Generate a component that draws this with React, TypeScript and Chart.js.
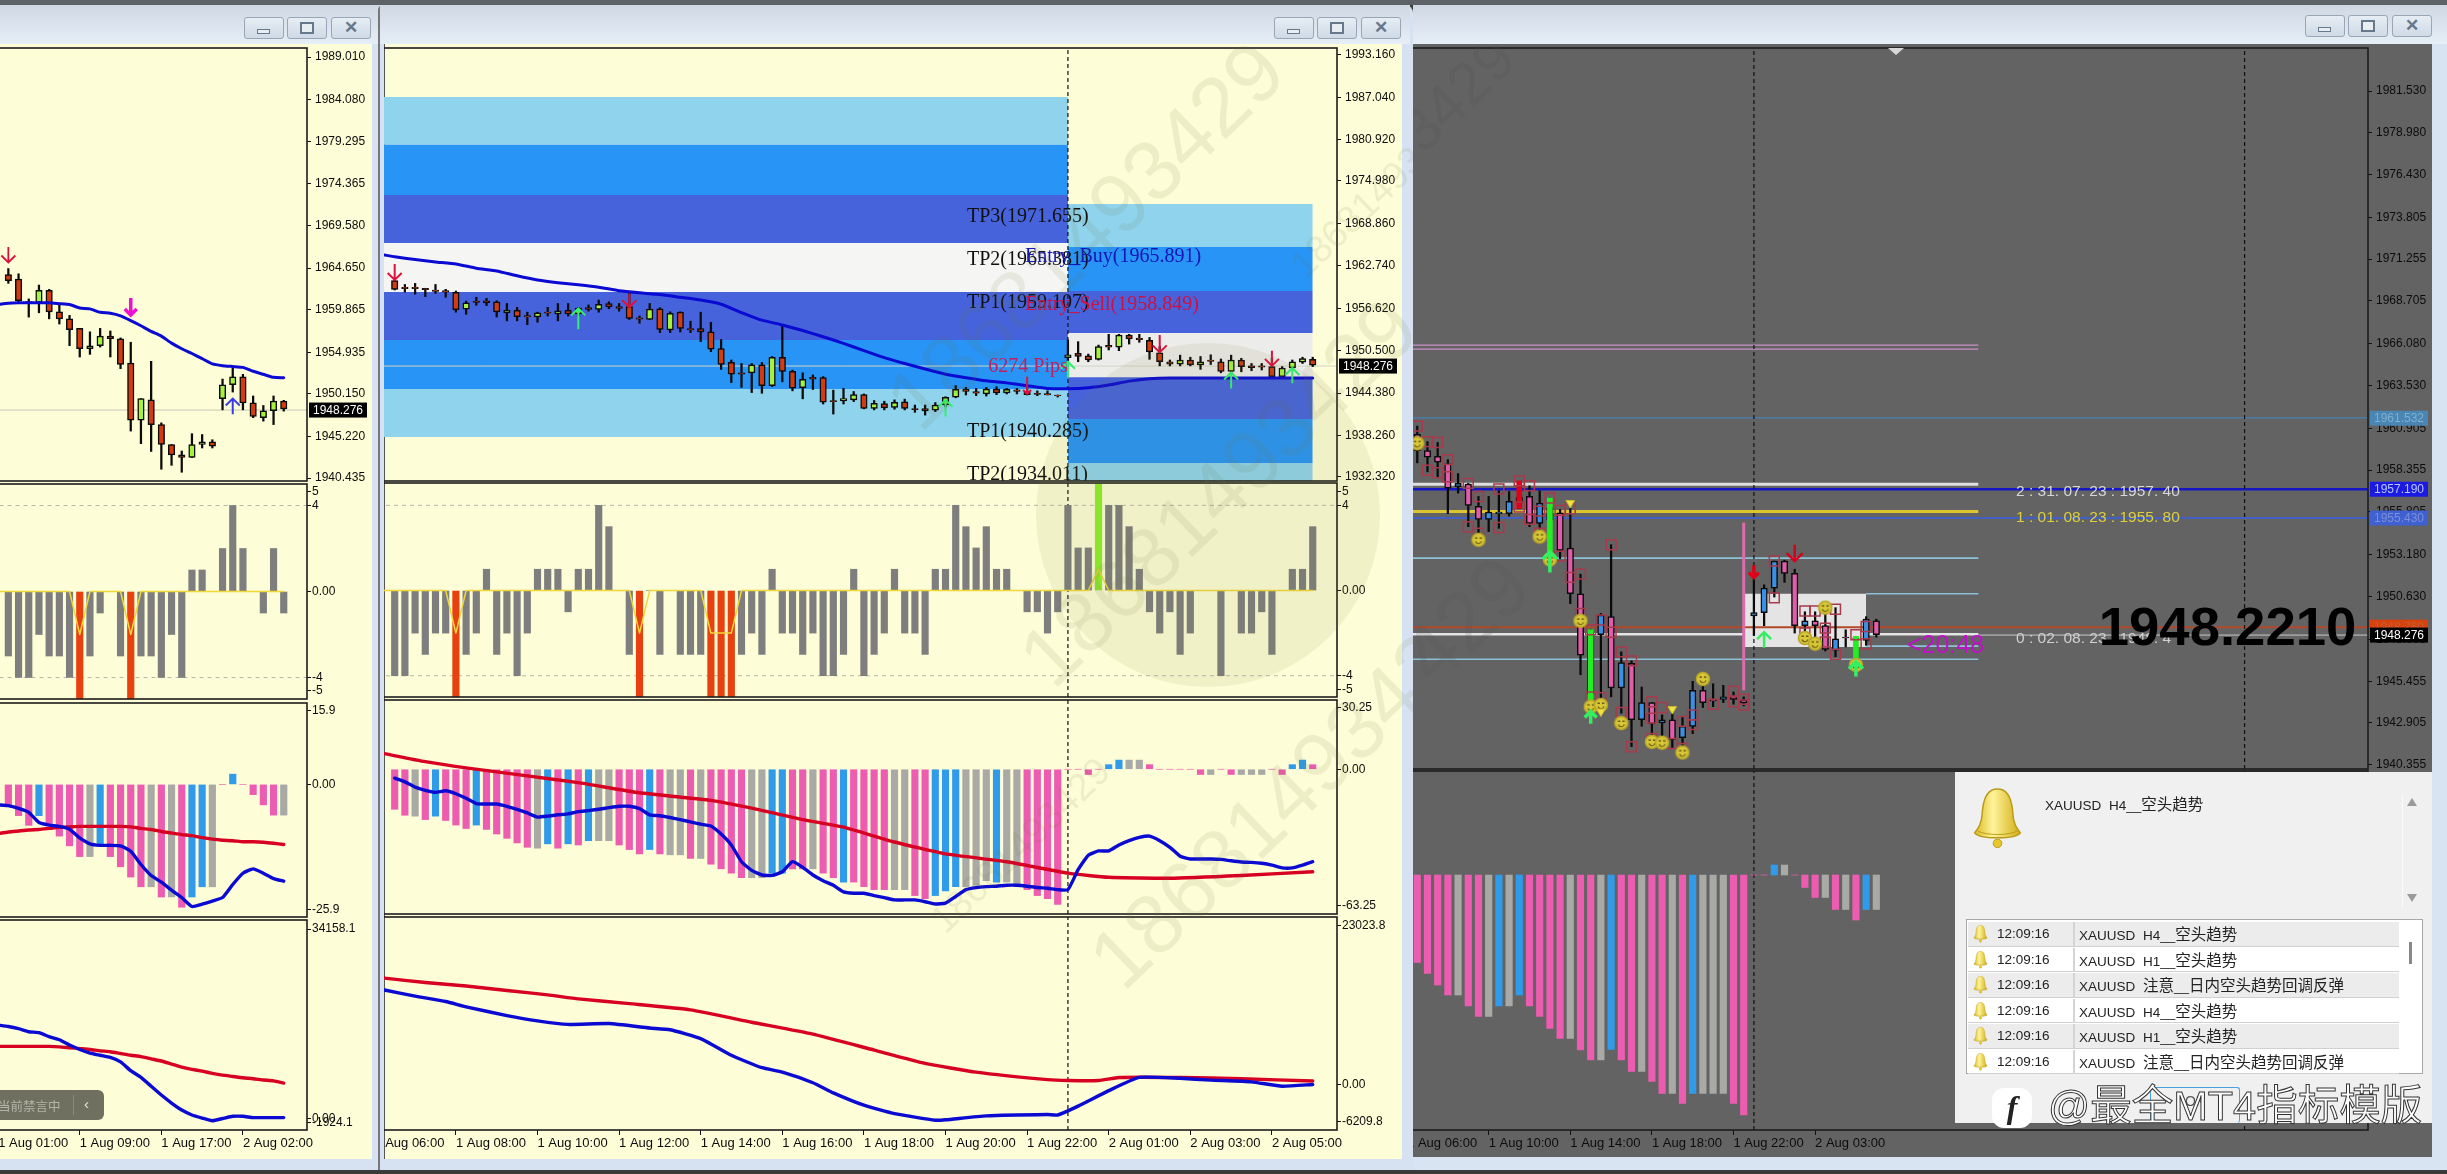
import React, { useEffect, useRef } from "react";
import { Chart, registerables } from "chart.js";

Chart.register(...registerables);

// ---------- Left window data ----------
const leftCandles = [
  [1963.9,1964.6,1962.9,1963.2],[1963.4,1964.0,1960.7,1960.9],[1960.8,1961.1,1959.0,1960.6],[1960.7,1962.7,1959.5,1962.1],
  [1962.1,1962.2,1958.8,1959.6],[1959.6,1960.4,1958.2,1958.8],[1958.8,1959.2,1955.7,1957.55],[1957.7,1957.7,1954.4,1955.35],
  [1955.35,1957.3,1954.7,1955.7],[1955.7,1957.7,1955.55,1956.8],[1956.8,1957.4,1954.4,1956.5],[1956.5,1956.6,1953.05,1953.55],
  [1953.7,1956.1,1945.85,1947.1],[1947.1,1949.6,1944.4,1949.6],[1949.45,1953.9,1943.5,1946.6],[1946.6,1946.8,1941.45,1944.3],
  [1944.3,1944.3,1941.9,1943.1],[1943.1,1943.55,1941.1,1942.8],[1942.8,1945.55,1942.8,1944.3],[1944.3,1945.45,1943.9,1944.6],
  [1944.6,1944.85,1943.9,1944.1],[1949.6,1951.85,1948.3,1951.2],[1951.2,1953.25,1950.35,1952.1],[1952.1,1952.4,1948.3,1949.1],
  [1949.1,1949.9,1947.4,1947.55],[1947.4,1948.8,1947.0,1948.2],[1948.2,1949.9,1946.6,1949.3],[1949.3,1949.4,1948.15,1948.4],
];
const leftMa = [1960.45,1960.6,1960.65,1960.65,1960.65,1960.65,1960.55,1960.45,1960.05,1959.95,1959.55,1959.45,1959.15,1958.6,1958.0,1957.35,1956.8,1956.0,1955.35,1954.8,1954.2,1953.6,1953.4,1953.3,1953.2,1952.75,1952.4,1952.05,1952.0];
const leftYTicks: [number, string][] = [[1989.01,"1989.010"],[1984.08,"1984.080"],[1979.295,"1979.295"],[1974.365,"1974.365"],[1969.58,"1969.580"],[1964.65,"1964.650"],[1959.865,"1959.865"],[1954.935,"1954.935"],[1950.15,"1950.150"],[1945.22,"1945.220"],[1940.435,"1940.435"]];
const leftXTicks: [number, string][] = [[-1,"1 Aug 01:00"],[7,"1 Aug 09:00"],[15,"1 Aug 17:00"],[23,"2 Aug 02:00"]];
const leftVol = [-3,-4,-4,-2,-3,-3,-4,-5,-3,-1,0,-3,-5,-3,-3,-4,-2,-4,1,1,0,2,4,2,0,-1,2,-1];
const leftVolZero: [number, number][] = [[-4,0],[6,0],[7,-2],[8,0],[11,0],[12,-2],[13,0],[27,0]];
const leftMacd = [-4,-6.1,-8,-6.1,-8.1,-10.1,-12,-14.1,-14.1,-12,-14.1,-16.1,-18.1,-20,-20,-22,-22,-24,-22,-20,-20,0,2,0,-2,-4,-6,-6];
const leftMacdKind = "pppbppppgbpppp" + "gpgpbbg" + "pbppppg";
const leftMacdRed = [-9.6,-9.3,-9.1,-8.9,-8.8,-8.6,-8.4,-8.3,-8.2,-8.2,-8.2,-8.2,-8.2,-8.3,-8.6,-8.8,-9.2,-9.5,-9.8,-10,-10.4,-10.7,-10.9,-11,-11.2,-11.2,-11.3,-11.5,-11.75];
const leftMacdBlue = [-4,-4.15,-4.7,-5.45,-7.45,-7.95,-8.2,-8.75,-10.45,-11.6,-11.9,-11.9,-12,-13.05,-15.65,-17.8,-19.1,-20.65,-22.1,-23.85,-23.4,-22.8,-22.1,-19.55,-17.35,-16.5,-17.35,-18.4,-18.9];
const leftObvBlue = [16090,15860,15480,14950,14800,14110,13580,12670,11910,11300,10920,10540,9780,8260,7120,5600,4080,2710,1500,660,130,-330,50,430,430,205,205,205,205];
const leftObvRed = [12440,12440,12440,12440,12440,12440,12365,12210,12060,11910,11680,11530,11225,10920,10690,10310,9930,9400,8870,8490,8185,7805,7500,7275,7045,6890,6665,6515,6130];

// ---------- Middle window data ----------
const midCandles = [
  [1960.6,1960.7,1959.25,1959.35],[1959.65,1960.05,1958.95,1959.45],[1959.65,1960.2,1958.65,1959.45],[1959.5,1959.5,1958.3,1959.3],
  [1959.25,1960.05,1958.75,1959.05],[1959.15,1959.35,1958.2,1958.95],[1958.9,1959.1,1956.05,1956.4],[1956.5,1957.65,1955.75,1957.4],
  [1957.65,1958.2,1957.05,1957.45],[1957.7,1958.05,1957.0,1957.4],[1957.55,1957.7,1955.35,1956.1],[1955.95,1957.3,1954.8,1956.35],
  [1956.3,1956.75,1954.8,1955.4],[1955.55,1956.05,1954.25,1955.35],[1955.35,1956.05,1954.6,1955.95],[1956.05,1956.75,1955.5,1955.9],
  [1955.8,1957.3,1954.8,1956.25],[1956.3,1957.3,1955.5,1955.8],[1955.8,1956.75,1955.5,1956.65],[1956.7,1957.1,1956.2,1956.45],
  [1956.45,1957.8,1956.05,1957.2],[1957.3,1957.55,1956.55,1956.8],[1956.85,1957.3,1956.2,1956.6],[1956.85,1959.0,1955.0,1955.15],
  [1955.25,1955.5,1954.45,1955.05],[1955.0,1957.3,1955.0,1956.5],[1956.55,1956.7,1953.1,1953.55],[1953.5,1956.1,1953.1,1955.9],
  [1956.05,1956.1,1953.2,1953.7],[1953.7,1954.75,1953.1,1953.5],[1953.7,1956.05,1951.8,1953.2],[1953.2,1954.6,1950.35,1950.7],
  [1950.8,1952.1,1947.8,1948.5],[1948.8,1949.15,1945.9,1947.1],[1947.3,1948.65,1945.2,1947.1],[1947.3,1948.65,1944.45,1948.45],
  [1948.45,1948.8,1944.35,1945.45],[1945.45,1949.65,1945.3,1949.55],[1949.55,1954.05,1946.0,1947.5],[1947.5,1947.7,1944.7,1945.1],
  [1945.15,1947.3,1943.55,1946.35],[1946.65,1947.0,1944.9,1946.4],[1946.6,1946.75,1942.8,1943.05],[1943.3,1944.8,1941.35,1943.15],
  [1943.25,1945.05,1942.8,1943.6],[1943.4,1944.6,1943.15,1944.15],[1944.15,1944.25,1942.1,1942.15],[1942.15,1943.3,1941.95,1942.9],
  [1942.85,1943.2,1941.95,1942.25],[1942.3,1943.4,1942.05,1943.05],[1943.1,1943.5,1941.95,1942.15],[1942.15,1942.65,1941.6,1942.0],
  [1942.15,1942.65,1941.2,1941.8],[1941.9,1943.0,1941.7,1942.65],[1942.65,1943.85,1942.4,1943.75],[1943.8,1945.45,1943.7,1944.9],
  [1944.95,1945.2,1944.1,1944.6],[1944.6,1945.05,1944.0,1944.35],[1944.25,1945.2,1943.95,1944.95],[1944.95,1945.3,1944.15,1944.4],
  [1944.4,1945.05,1944.25,1944.9],[1944.85,1945.05,1944.25,1944.6],[1944.6,1945.2,1944.1,1944.15],[1944.35,1944.7,1944.0,1944.2],
  [1944.3,1944.7,1944.1,1944.1],[1944.1,1944.1,1943.8,1944.0],[1949.5,1952.05,1947.95,1949.9],[1950.1,1951.8,1948.9,1949.65],
  [1949.75,1950.0,1948.9,1949.15],[1949.25,1951.3,1949.15,1951.1],[1951.25,1952.85,1950.6,1951.0],[1951.0,1952.85,1950.5,1952.75],
  [1952.75,1952.85,1951.45,1952.2],[1952.3,1952.85,1951.7,1952.1],[1952.0,1952.4,1949.25,1950.3],[1950.2,1951.1,1948.3,1948.9],
  [1948.9,1949.15,1948.3,1948.55],[1948.55,1949.85,1948.3,1949.15],[1949.15,1949.55,1948.3,1948.45],[1948.45,1949.65,1947.8,1948.9],
  [1949.15,1949.9,1948.5,1948.95],[1948.9,1949.3,1947.3,1947.5],[1947.5,1949.85,1947.2,1949.15],[1949.15,1949.4,1947.45,1948.2],
  [1948.3,1948.65,1947.6,1948.05],[1948.3,1948.65,1947.7,1948.1],[1948.2,1949.4,1946.75,1946.75],[1946.75,1948.2,1946.65,1948.0],
  [1948.0,1949.15,1947.8,1948.9],[1948.85,1949.55,1948.65,1949.35],[1949.25,1949.55,1948.2,1948.4],
];
const midMa: [number, number][] = [[-1,1964.3],[0,1964.05],[2,1963.65],[4,1963.3],[6,1963],[8,1962.4],[10,1962],[12,1961.3],[14,1960.7],[16,1960.3],[18,1960],[20,1959.65],[22,1959.15],[24,1958.85],[26,1958.6],[28,1958.2],[30,1957.8],[32,1957.2],[34,1956],[36,1954.9],[38,1954.2],[40,1953.4],[42,1952.5],[44,1951.55],[46,1950.5],[48,1949.5],[50,1948.65],[52,1947.85],[54,1947.1],[56,1946.6],[58,1946.15],[60,1945.85],[62,1945.45],[64,1945.05],[66,1945],[68,1945.15],[70,1945.55],[72,1946.1],[74,1946.45],[76,1946.55],[90,1946.55]];
const midYTicks: [number, string][] = [[1993.16,"1993.160"],[1987.04,"1987.040"],[1980.92,"1980.920"],[1974.98,"1974.980"],[1968.86,"1968.860"],[1962.74,"1962.740"],[1956.62,"1956.620"],[1950.5,"1950.500"],[1944.38,"1944.380"],[1938.26,"1938.260"],[1932.32,"1932.320"]];
const midXTicks: [number, string][] = [[-2,"1 Aug 06:00"],[6,"1 Aug 08:00"],[14,"1 Aug 10:00"],[22,"1 Aug 12:00"],[30,"1 Aug 14:00"],[38,"1 Aug 16:00"],[46,"1 Aug 18:00"],[54,"1 Aug 20:00"],[62,"1 Aug 22:00"],[70,"2 Aug 01:00"],[78,"2 Aug 03:00"],[86,"2 Aug 05:00"]];
const midBandsLeft = [1987.1,1980.2,1972.95,1966.05,1958.95,1952.05,1944.95,1938.05];
const midBandsRight = [1971.65,1965.45,1959.1,1953.05,1946.65,1940.65,1934.3,1931];
const midVol = [-4,-4,-2,-3,-2,-2,-5,-3,-2,1,-3,-2,-4,-2,1,1,1,-1,1,1,4,3,0,-3,-5,0,-3,0,-3,-3,-3,-5,-5,-5,-3,-2,-3,1,-2,-2,-3,-2,-4,-4,-3,1,-4,-3,-2,1,-2,-2,-3,1,1,4,3,2,3,1,1,0,-1,-1,-2,-1,4,2,2,5,4,4,3,1,-1,-2,-1,-3,-2,0,0,-4,0,-2,-2,-1,-3,0,1,1,3];
const midVolZero: [number, number][] = [[-4,0],[5,0],[6,-2],[7,0],[23,0],[24,-2],[25,0],[30,0],[31,-2],[33,-2],[34,0],[68,0],[69,1],[70,0],[90,0]];
const midMacd = [-17.5,-20.1,-20.5,-22,-20.5,-22.4,-24.4,-25.9,-24.4,-26.3,-28.3,-30.2,-32.2,-34.1,-34.5,-32.6,-34.5,-32.6,-33.1,-31.2,-31.2,-31.2,-33.1,-35.1,-37,-35.1,-37,-37.4,-37.4,-39,-39,-41.5,-43.5,-45.4,-47.4,-47.4,-47.4,-45.4,-45.4,-43.5,-43.5,-43.5,-45.4,-47.4,-49.3,-49.3,-51.3,-52.6,-52.6,-52.6,-52.6,-55.2,-56.5,-55.2,-53.2,-51.3,-51.3,-50.7,-48.7,-49.3,-49.3,-50.7,-52.6,-55.2,-56.5,-59.1,0,0,-2.3,0,2,4,4,4,2,0,0,0,0,-2.3,-2.3,0,-2.3,-2.3,-2.3,-2.3,0,-2.3,2,4,2];
const midMacdKind = "ppgpbpppbppppp" + "gbpbpbgg" + "pppbpggpgpppp" + "ggbbppgppbpppp" + "ggpp" + "bbbgggbgg" + "pppp" + "pppp" + "bbgg" + "p" + "pppp" + "pgp" + "pggg" + "pp" + "bbp";
const midMacdBlue = [-3.9,-5.5,-7.8,-9.2,-10.1,-9.4,-10.7,-12.7,-15,-15.2,-15.2,-16.2,-17.5,-19.1,-20.9,-20.5,-19.9,-19.5,-18.5,-18.1,-17.5,-16.8,-16.2,-16.2,-17.2,-19.9,-20.3,-21.1,-22,-23,-24,-24.8,-28.3,-33.1,-40.4,-44.2,-46.2,-46.4,-44.8,-40.4,-42.9,-46.2,-48.7,-50.7,-53.6,-54.2,-54.2,-55.2,-56.1,-57.1,-57.1,-57.1,-57.9,-58.9,-58.5,-55.6,-52.6,-51.7,-51.3,-51.1,-50.7,-50.7,-51.1,-51.7,-52,-52.6,-52.6,-43.9,-37.6,-35.7,-35.7,-33.1,-31.2,-29.8,-29.2,-31.2,-34.1,-38,-39.2,-39.2,-39.2,-39.4,-40,-40.5,-40.7,-41.1,-41.9,-43.1,-43.1,-41.9,-40.4];
const midMacdRed: [number, number][] = [[-1,6.8],[3,3.3],[7,0.6],[13,-2.9],[18,-5.85],[24,-10.3],[31,-13.6],[35,-17],[40,-22],[44,-25.3],[49,-31.8],[54,-37],[60,-40.4],[66,-45.4],[70,-47.2],[76,-47.6],[83,-46.4],[90,-44.8]];
const midObvRed: [number, number][] = [[-1,14640],[3,14030],[7,13550],[11,12940],[15,12340],[18,11790],[23,11130],[29,10280],[35,8580],[41,6940],[47,4760],[52,2945],[57,1730],[64,700],[66,580],[69,580],[71,1005],[77,1005],[83,825],[90,520]];
const midObvBlue: [number, number][] = [[-1,13000],[2,12160],[5,11430],[7,10700],[11,9490],[14,8760],[17,8280],[21,8400],[25,7790],[27,7550],[30,6340],[33,4040],[36,2340],[38,1730],[41,280],[43,-1115],[46,-2810],[49,-3960],[53,-4870],[54,-4810],[58,-4270],[64,-4080],[65,-4150],[67,-2930],[70,-810],[73,1005],[77,885],[80,640],[84,400],[87,-205],[90,35]];

// ---------- Right window data ----------
const rightCandles = [
  [1960.55,1961.05,1958.8,1959.55],[1959.55,1960.1,1958.25,1959.15],[1959.2,1960.05,1957.95,1958.85],[1958.75,1959,1955.7,1957.25],
  [1957.35,1958.15,1956.95,1957.55],[1957.5,1957.55,1954.9,1956.2],[1956.15,1956.75,1954.5,1955.35],[1955.35,1956.75,1954.6,1955.8],
  [1955.7,1957.1,1954.8,1955.8],[1955.7,1957.05,1955.55,1956.45],[1956.7,1956.75,1956,1956.35],[1956.75,1957.4,1954.9,1955.1],
  [1955.1,1957.1,1954.4,1956.35],[1956.05,1956.65,1953.25,1955.3],[1955.75,1955.95,1952.95,1953.45],[1953.6,1956,1950.2,1950.8],
  [1950.8,1952,1945.85,1947.05],[1948.4,1948.6,1944.5,1944.7],[1948.3,1949.6,1944.4,1949.5],[1949.4,1953.8,1944.5,1945.05],
  [1945.05,1947.25,1943.5,1946.6],[1946.55,1946.7,1941.45,1943.1],[1943.1,1945.1,1942.7,1944.15],[1944.15,1944.15,1941.85,1942.85],
  [1942.9,1943.4,1941.85,1943.1],[1943.1,1943.6,1941.35,1941.9],[1942,1943.3,1941.25,1942.7],[1942.7,1945.45,1942.25,1944.9],
  [1944.9,1945.15,1943.85,1944.15],[1944.35,1945.3,1943.9,1944.25],[1944.35,1945.2,1944.15,1944.5],[1944.55,1944.8,1944.05,1944.35],
  [1944.3,1944.5,1943.95,1944.15],[1949.45,1951.8,1948.25,1949.65],[1949.65,1951.35,1948.85,1951.15],[1951.15,1952.8,1950.6,1952.8],
  [1952.8,1952.85,1951.5,1952.05],[1952.05,1952.3,1948.4,1948.85],[1948.85,1949.7,1948.4,1949.15],[1949.15,1949.7,1947.95,1948.85],
  [1948.85,1949.95,1947.3,1947.4],[1947.35,1949.95,1946.95,1948.05],[1948.15,1948.6,1947.55,1948.1],[1948.1,1948.2,1947.35,1948.05],
  [1947.95,1949.4,1947.65,1949.25],[1949.15,1949.25,1948.15,1948.3],
];
const rightYTicks: [number, string][] = [[1981.53,"1981.530"],[1978.98,"1978.980"],[1976.43,"1976.430"],[1973.805,"1973.805"],[1971.255,"1971.255"],[1968.705,"1968.705"],[1966.08,"1966.080"],[1963.53,"1963.530"],[1960.905,"1960.905"],[1958.355,"1958.355"],[1955.805,"1955.805"],[1953.18,"1953.180"],[1950.63,"1950.630"],[1948.005,"1948.005"],[1945.455,"1945.455"],[1942.905,"1942.905"],[1940.355,"1940.355"]];
const rightXTicks: [number, string][] = [[-1,"1 Aug 06:00"],[7,"1 Aug 10:00"],[15,"1 Aug 14:00"],[23,"1 Aug 18:00"],[31,"1 Aug 22:00"],[39,"2 Aug 03:00"]];
const rightSpikesGreen: [number, number, number][] = [[13,1952.85,1956.65],[17,1944.3,1948.6],[43,1946.55,1948.2]];
const rightSpikesRed: [number, number, number][] = [[10,1956,1957.7]];
const rightSquares: [number, number][] = [[0,1961.05],[1,1960.1],[2,1960.05],[1,1958.35],[2,1958.2],[3,1959],[3,1957.95],[5,1957.55],[6,1956.75],[5,1954.9],[6,1954.5],[8,1957.2],[8,1954.85],[10,1957.7],[11,1957.4],[10,1956.1],[11,1955.35],[12,1955.85],[12,1954.5],[13,1956.65],[14,1955.9],[14,1953.1],[15,1956],[15,1951.8],[16,1952],[16,1949.6],[17,1948.6],[17,1944.5],[18,1949.2],[18,1944.45],[19,1953.8],[19,1948.45],[20,1947.25],[20,1943.55],[21,1946.7],[21,1941.45],[23,1944.2],[23,1941.95],[24,1943.85],[23,1943.2],[26,1943],[27,1943.4],[27,1942.8],[26,1941.35],[25,1941.65],[29,1944.05],[31,1944.85],[31,1944.2],[32,1944.35],[32,1944],[35,1952.8],[35,1950.55],[38,1949.75],[39,1949.75],[38,1948.4],[40,1948.7],[40,1947.85],[41,1949.85],[41,1947.1],[43,1948.3],[44,1948.8],[44,1947.75]];
const rightSmiles: [number, number][] = [[0,1960],[6,1954.1],[12,1954.3],[13,1952.9],[16,1949.15],[17,1943.9],[18,1944],[20,1942.9],[23,1941.75],[24,1941.7],[26,1941.1],[28,1945.6],[38,1948.1],[39,1947.75],[40,1949.95],[43,1946.45]];
const rightTicksYellow: [number, number][] = [[15,1956.35],[25,1943.75],[18,1943.6]];
const rightMacd = [-17.5,-19.7,-22,-24,-24,-26.2,-28.3,-28.3,-26.2,-26.2,-24,-26.2,-28.3,-30.7,-32.7,-32.7,-35,-37,-37,-34.9,-37,-39.3,-39.3,-41.3,-43.7,-43.7,-45.7,-43.7,-43.7,-43.7,-43.7,-45.7,-48,0,0,2,2,0,-2.5,-4.5,-4.5,-6.9,-6.9,-9,-6.9,-6.9];
const rightMacdKind = "ppppgppgbgbpppp" + "gppgbppgppgpbgggpp" + "ppbgpppgpgpbg";
const alertRows = ["XAUUSD H4__空头趋势","XAUUSD H1__空头趋势","XAUUSD 注意__日内空头趋势回调反弹","XAUUSD H4__空头趋势","XAUUSD H1__空头趋势","XAUUSD 注意__日内空头趋势回调反弹"];
const alertTime = "12:09:16";

// ---------- helpers ----------
const CREAM = "#fdfdd7";
const PANE_BLUE = "#0a0ad2";
const PANE_RED = "#d80022";
const seq = (a: number[], start = 0) => a.map((y, i) => ({ x: i + start, y }));
const pts = (a: [number, number][]) => a.map(([x, y]) => ({ x, y }));
const hline = (y: number, x0: number, x1: number, color: string, w = 1, dash?: number[]) => ({
  type: "line", data: [{ x: x0, y }, { x: x1, y }], borderColor: color, borderWidth: w, borderDash: dash || [], pointRadius: 0,
});
const vline = (x: number, y0: number, y1: number, color = "#111", w = 1.2, dash: number[] = [4, 3]) => ({
  type: "line", data: [{ x, y: y0 }, { x, y: y1 }], borderColor: color, borderWidth: w, borderDash: dash, pointRadius: 0,
});
const band = (top: number, bottom: number, x0: number, x1: number, color: string) => ({
  type: "line", data: [{ x: x0, y: top }, { x: x1, y: top }], borderWidth: 0, pointRadius: 0, backgroundColor: color, fill: { value: bottom },
});
const line = (data: any[], color: string, w = 3.4, tension = 0.15) => ({
  type: "line", data, borderColor: color, borderWidth: w, pointRadius: 0, tension, borderJoinStyle: "round", borderCapStyle: "round",
});
const candles = (c: number[][], up: string, down: string, bodyW = 7) => [
  { type: "bar", data: c.map((k, i) => ({ x: i, y: [k[2], k[1]] })), backgroundColor: "#0b0b0b", barThickness: 1.6, grouped: false, borderWidth: 0 },
  {
    type: "bar", data: c.map((k, i) => ({ x: i, y: [k[0], k[3]] })),
    backgroundColor: c.map((k) => (k[3] >= k[0] ? up : down)), borderColor: "#0b0b0b", borderWidth: 1.5, borderSkipped: false,
    barThickness: bodyW, grouped: false,
  },
];
const KIND: Record<string, string> = { p: "#ec5cb0", b: "#2f9bea", g: "#a9a9a5" };
const hist = (vals: number[], kinds: string, start = 0) => ({
  type: "bar", data: seq(vals, start), backgroundColor: vals.map((_, i) => KIND[kinds[i]] || KIND.g), barThickness: 6.5, grouped: false, borderWidth: 0,
});
const vol = (vals: number[]) => ({
  type: "bar", data: seq(vals), barThickness: 6.5, grouped: false, borderWidth: 0,
  backgroundColor: vals.map((v) => (v <= -5 ? "#e8400e" : v >= 5 ? "#8ff02a" : "#7e7e7e")),
});
const spikes = (a: [number, number, number][], color: string) => ({
  type: "bar", data: a.map(([x, lo, hi]) => ({ x, y: [lo, hi] })), backgroundColor: color, barThickness: 5, grouped: false, borderWidth: 0,
});
const bandColors = ["#8fd3ec", "#2894f6", "#4663dc", "#f5f5f3", "#4663dc", "#2894f6", "#8fd3ec"];

function smileSprite() {
  const c = document.createElement("canvas");
  c.width = 16; c.height = 16;
  const g = c.getContext("2d")!;
  g.fillStyle = "#d8c838"; g.strokeStyle = "#b7a52a"; g.lineWidth = 1.5;
  g.beginPath(); g.arc(8, 8, 6.5, 0, 7); g.fill(); g.stroke();
  g.fillStyle = "#6a5a10"; g.fillRect(4.5, 5.5, 2.5, 1.5); g.fillRect(9, 5.5, 2.5, 1.5);
  g.strokeStyle = "#6a5a10"; g.lineWidth = 1.2; g.beginPath(); g.arc(8, 8.5, 3.2, 0.3, 2.8); g.stroke();
  return c;
}

function drawArrow(ctx: any, x: number, yTip: number, yTail: number, color: string, w: number, head: number) {
  const dir = yTail > yTip ? 1 : -1;
  ctx.strokeStyle = color; ctx.lineWidth = w; ctx.lineCap = "butt";
  ctx.beginPath(); ctx.moveTo(x, yTail); ctx.lineTo(x, yTip);
  ctx.moveTo(x - head, yTip + dir * head); ctx.lineTo(x, yTip); ctx.lineTo(x + head, yTip + dir * head);
  ctx.stroke();
}

type Cfg = {
  clipLeft: number; plotLeft: number; plotRight: number; axisW: number; top: number; bottom: number;
  xMin: number; xMax: number; yMin: number; yMax: number; yTicks: [number, string][]; xTicks?: [number, string][];
  datasets: any[]; labelPad?: number; xFont?: number;
  arrows?: { i: number; tip: number; tail: number; color: string; w?: number; head?: number }[];
  texts?: { t: string; i: number; p: number; color: string; font: string }[];
  tags?: { p: number; t: string; bg: string; fg: string }[];
};

function Pane({ cfg }: { cfg: Cfg }) {
  const ref = useRef<HTMLCanvasElement>(null);
  const PAD = 12;
  const xH = cfg.xTicks ? 26 : 0;
  const w = cfg.plotRight - cfg.plotLeft + cfg.axisW;
  const h = cfg.bottom - cfg.top + PAD + (cfg.xTicks ? xH : PAD);
  useEffect(() => {
    const plugin = {
      id: "pane",
      afterDatasetsDraw(chart: any) {
        const { ctx, chartArea: a, scales } = chart;
        ctx.save();
        ctx.beginPath(); ctx.rect(a.left, a.top, a.right - a.left, a.bottom - a.top); ctx.clip();
        (cfg.arrows || []).forEach((r) =>
          drawArrow(ctx, scales.x.getPixelForValue(r.i), scales.y.getPixelForValue(r.tip), scales.y.getPixelForValue(r.tail), r.color, r.w || 2, r.head || 7));
        (cfg.texts || []).forEach((t) => {
          ctx.font = t.font; ctx.fillStyle = t.color; ctx.textBaseline = "middle"; ctx.textAlign = "left";
          ctx.fillText(t.t, scales.x.getPixelForValue(t.i), scales.y.getPixelForValue(t.p));
        });
        ctx.restore();
        ctx.strokeStyle = "#1c1c1c"; ctx.lineWidth = 1.6;
        ctx.strokeRect(a.left, a.top, a.right - a.left, a.bottom - a.top);
      },
      afterDraw(chart: any) {
        const { ctx, chartArea: a, scales } = chart;
        (cfg.tags || []).forEach((t) => {
          const y = scales.y.getPixelForValue(t.p);
          ctx.fillStyle = t.bg; ctx.fillRect(a.right + 2, y - 7.5, 58, 15);
          ctx.fillStyle = t.fg; ctx.font = "12px 'Liberation Sans'"; ctx.textAlign = "center"; ctx.textBaseline = "middle";
          ctx.fillText(t.t, a.right + 31, y + 0.5);
        });
      },
    };
    const ds = cfg.datasets.map((d, i) => ({ order: -i, ...d }));
    const chart = new Chart(ref.current!, {
      type: "bar",
      data: { datasets: ds },
      plugins: [plugin],
      options: {
        animation: false, responsive: false, devicePixelRatio: 1,
        layout: { autoPadding: false, padding: { top: PAD, bottom: cfg.xTicks ? 0 : PAD, left: 0, right: 0 } },
        plugins: { legend: { display: false }, tooltip: { enabled: false }, title: { display: false } },
        events: [],
        scales: {
          x: {
            type: "linear", offset: false, min: cfg.xMin, max: cfg.xMax, display: !!cfg.xTicks,
            grid: { offset: false, drawOnChartArea: false, drawTicks: true, tickLength: 5, color: "#111" },
            border: { display: false },
            afterBuildTicks: (s: any) => { s.ticks = (cfg.xTicks || []).map(([v]) => ({ value: v })); },
            afterFit: (s: any) => { s.height = xH; s.paddingLeft = 0; s.paddingRight = 0; },
            ticks: {
              autoSkip: false, maxRotation: 0, minRotation: 0, align: "start", padding: 1, color: "#0c0c0c",
              font: { family: "'Liberation Sans'", size: cfg.xFont || 13 },
              callback: (_: any, i: number) => (cfg.xTicks || [])[i]?.[1],
            },
          },
          y: {
            type: "linear", position: "right", min: cfg.yMin, max: cfg.yMax,
            grid: { drawOnChartArea: false, tickLength: 4, color: "#111" },
            border: { display: false },
            afterBuildTicks: (s: any) => { s.ticks = cfg.yTicks.map(([v]) => ({ value: v })); },
            afterFit: (s: any) => { s.width = cfg.axisW; s.paddingTop = 0; s.paddingBottom = 0; },
            ticks: {
              autoSkip: false, padding: cfg.labelPad ?? 4, color: "#0c0c0c", crossAlign: "near",
              font: { family: "'Liberation Sans'", size: 12 },
              callback: (_: any, i: number) => cfg.yTicks[i]?.[1],
            },
          },
        },
      } as any,
    } as any);
    return () => chart.destroy();
  }, []);
  return (
    <canvas ref={ref} width={w} height={h}
      style={{ position: "absolute", left: cfg.plotLeft - cfg.clipLeft, top: cfg.top - PAD, width: w, height: h }} />
  );
}

// ---------- pane configs ----------
const SMALL = 1;
const ZERO = "#f0d838";
const leftX = { clipLeft: 0, plotLeft: -30, plotRight: 307, axisW: 65, xMin: -3.76, xMax: 29.28 };
const leftPanes: Cfg[] = [
  { ...leftX, top: 48, bottom: 481, yMin: 1940.09, yMax: 1990.05, yTicks: leftYTicks,
    datasets: [hline(1948.276, -4, 30, "#c8c8b8", 1), ...candles(leftCandles, "#a6f23c", "#d23c10", 6.5), line(seq(leftMa, -1), PANE_BLUE, 3)],
    arrows: [{ i: 0, tip: 1965.3, tail: 1967.1, color: "#d8123c", w: 1.8 }, { i: 12, tip: 1959.25, tail: 1961.2, color: "#f010d0", w: 3.5, head: 6 }, { i: 22, tip: 1949.6, tail: 1947.8, color: "#3a3ae8", w: 2, head: 7 }],
    tags: [{ p: 1948.276, t: "1948.276", bg: "#000", fg: "#fff" }] },
  { ...leftX, top: 484, bottom: 699, labelPad: SMALL, yMin: -5, yMax: 5, yTicks: [[4.65, "5"], [4, "4"], [0, "0.00"], [-4, "-4"], [-4.6, "-5"]],
    datasets: [hline(4, -4, 30, "#b8b8a8", 1, [4, 4]), hline(-4, -4, 30, "#b8b8a8", 1, [4, 4]), vol(leftVol), line(pts(leftVolZero), ZERO, 1.5, 0)] },
  { ...leftX, top: 703, bottom: 917, labelPad: SMALL, yMin: -25.9, yMax: 15.9, yTicks: [[14.4, "15.9"], [0, "0.00"], [-24.4, "-25.9"]],
    datasets: [hist(leftMacd, leftMacdKind), line(seq(leftMacdRed, -1), PANE_RED), line(seq(leftMacdBlue, -1), PANE_BLUE)] },
  { ...leftX, top: 920, bottom: 1130, labelPad: SMALL, yMin: -1924.1, yMax: 34158.1, yTicks: [[32600, "34158.1"], [0, "0.00"], [-720, "-1924.1"]], xTicks: leftXTicks,
    datasets: [line(seq(leftObvRed, -1), PANE_RED), line(seq(leftObvBlue, -1), PANE_BLUE)] },
];

const midX = { clipLeft: 384, plotLeft: 354, plotRight: 1337, axisW: 65, xMin: -3.99, xMax: 92.38 };
const midVert = (a: number, b: number) => vline(66, a, b);
const midBands = [
  ...bandColors.map((c, i) => band(midBandsLeft[i], midBandsLeft[i + 1], -4, 66, c)),
  ...bandColors.map((c, i) => band(midBandsRight[i], midBandsRight[i + 1], 66, 90, c === "#f5f5f3" ? "#ececea" : c)),
];
const F20 = "20px 'Liberation Serif'";
const midPanes: Cfg[] = [
  { ...midX, top: 48, bottom: 481, yMin: 1931.69, yMax: 1994.17, yTicks: midYTicks,
    datasets: [...midBands, midVert(1931.69, 1994.17), hline(1948.276, -4, 93, "#d4d4c4", 1), ...candles(midCandles, "#a6f23c", "#d23c10", 6.5), line(pts(midMa), PANE_BLUE, 3)],
    arrows: [
      { i: 0, tip: 1960.7, tail: 1963, color: "#e0103c" }, { i: 23, tip: 1956.75, tail: 1958.75, color: "#e0103c" },
      { i: 62, tip: 1944.25, tail: 1946.75, color: "#e0103c", head: 4 }, { i: 75, tip: 1950.25, tail: 1952.75, color: "#e0103c" },
      { i: 86, tip: 1948.3, tail: 1950.5, color: "#e0103c" },
      { i: 18, tip: 1956.6, tail: 1953.6, color: "#32f070" }, { i: 54, tip: 1943.4, tail: 1941, color: "#32f070" },
      { i: 66, tip: 1948.9, tail: 1946.65, color: "#32f070" }, { i: 82, tip: 1947.35, tail: 1945.05, color: "#32f070" },
      { i: 88, tip: 1948, tail: 1945.8, color: "#32f070" },
    ],
    texts: [
      { t: "TP3(1971.655)", i: 56.1, p: 1969.8, color: "#101010", font: F20 },
      { t: "TP2(1965.381)", i: 56.1, p: 1963.6, color: "#101010", font: F20 },
      { t: "TP1(1959.107)", i: 56.1, p: 1957.4, color: "#101010", font: F20 },
      { t: "TP1(1940.285)", i: 56.1, p: 1938.75, color: "#101010", font: F20 },
      { t: "TP2(1934.011)", i: 56.1, p: 1932.55, color: "#101010", font: F20 },
      { t: "Entry_Buy(1965.891)", i: 61.8, p: 1964, color: "#1414b4", font: F20 },
      { t: "Entry_Sell(1958.849)", i: 61.8, p: 1957.1, color: "#d01040", font: F20 },
      { t: "6274 Pips", i: 58.2, p: 1948.15, color: "#c0205e", font: F20 },
    ],
    tags: [{ p: 1948.276, t: "1948.276", bg: "#000", fg: "#fff" }] },
  { ...midX, top: 483, bottom: 697, labelPad: SMALL, yMin: -5, yMax: 5.05, yTicks: [[4.65, "5"], [4, "4"], [0, "0.00"], [-4, "-4"], [-4.65, "-5"]],
    datasets: [hline(4, -4, 93, "#b8b8a8", 1, [4, 4]), hline(-4, -4, 93, "#b8b8a8", 1, [4, 4]), midVert(-5, 5.05), vol(midVol), line(pts(midVolZero), ZERO, 1.5, 0)] },
  { ...midX, top: 700, bottom: 914, labelPad: SMALL, yMin: -63.25, yMax: 30.25, yTicks: [[27, "30.25"], [0, "0.00"], [-59.5, "-63.25"]],
    datasets: [hist(midMacd, midMacdKind), midVert(-63.25, 30.25), line(pts(midMacdRed), PANE_RED), line(seq(midMacdBlue, 0), PANE_BLUE)] },
  { ...midX, top: 917, bottom: 1130, labelPad: SMALL, yMin: -6209.8, yMax: 23023.8, yTicks: [[21900, "23023.8"], [0, "0.00"], [-5050, "-6209.8"]], xTicks: midXTicks,
    datasets: [midVert(-6209.8, 23023.8), line(pts(midObvRed), PANE_RED), line(pts(midObvBlue), PANE_BLUE)] },
];

const rightX = { clipLeft: 1413, plotLeft: 1383, plotRight: 2368, axisW: 64, xMin: -3.36, xMax: 93.2 };
const LB = "#8cc2d6";
const F15 = "15.5px 'Liberation Sans'";
const rightPanes = (): Cfg[] => [
  { ...rightX, top: 48, bottom: 769, yMin: 1940.09, yMax: 1984.16, yTicks: rightYTicks,
    datasets: [
      band(1950.8, 1947.55, 32, 44, "#e4e4e4"),
      hline(1966, -4, 55, "#c88fc8", 1.2), hline(1965.75, -4, 55, "#c88fc8", 1.2),
      hline(1961.55, -4, 94, "#4a80b4", 1.2),
      hline(1957.5, -4, 55, "#dedede", 3), hline(1957.19, -4, 94, "#1616c4", 2.5),
      hline(1955.83, -4, 55, "#dcc52e", 3), hline(1955.43, -4, 94, "#4260c4", 2),
      hline(1952.98, -4, 55, LB, 1.6), hline(1950.8, 44, 55, LB, 1.6), hline(1947.6, 44, 55, LB, 1.6), hline(1946.8, -4, 55, LB, 1.6),
      hline(1948.76, -4, 94, "#b04a28", 2), hline(1948.33, -4, 55, "#e4e4e4", 2.5), hline(1948.276, 55, 94, "#c8c8c8", 1),
      vline(33, 1940.09, 1984.16), vline(81.1, 1940.09, 1984.16),
      vline(32, 1944.9, 1955.15, "#dc6cae", 3, []),
      ...candles(rightCandles, "#3a90e4", "#e25cac", 6.5),
      spikes(rightSpikesGreen, "#22ee22"), spikes(rightSpikesRed, "#e00018"),
      { type: "line", showLine: false, data: pts(rightSquares), pointStyle: "rect", pointRadius: 7, pointBorderColor: "#a83a4c", pointBackgroundColor: "rgba(0,0,0,0)", pointBorderWidth: 1.5 },
      { type: "line", showLine: false, data: pts(rightSmiles), pointStyle: smileSprite(), pointRadius: 8 },
      { type: "line", showLine: false, data: pts(rightTicksYellow), pointStyle: "triangle", rotation: 180, pointRadius: 5, pointBackgroundColor: "#f0e040", pointBorderColor: "#c8b830", pointBorderWidth: 1 },
    ],
    arrows: [
      { i: 33, tip: 1951.8, tail: 1952.55, color: "#e00018", w: 3.5, head: 5 }, { i: 37, tip: 1952.8, tail: 1953.8, color: "#d8001c", w: 2.5, head: 8 },
      { i: 34, tip: 1948.45, tail: 1947.5, color: "#32f060", w: 2.5, head: 7 }, { i: 13, tip: 1953.35, tail: 1952.1, color: "#32f060", w: 3.5, head: 7 },
      { i: 17, tip: 1943.6, tail: 1942.85, color: "#32f060", w: 3.5, head: 6 }, { i: 43, tip: 1946.65, tail: 1945.75, color: "#32f060", w: 3.5, head: 7 },
    ],
    texts: [
      { t: "2 : 31. 07. 23 : 1957. 40", i: 58.7, p: 1957.05, color: "#d8d8d8", font: F15 },
      { t: "1 : 01. 08. 23 : 1955. 80", i: 58.7, p: 1955.45, color: "#dccf40", font: F15 },
      { t: "0 : 02. 08. 23 : 1948. 4", i: 58.7, p: 1948.05, color: "#d0d0d0", font: F15 },
      { t: "<20:48", i: 48, p: 1947.6, color: "#c010c8", font: "25px 'Liberation Sans'" },
      { t: "1948.2210", i: 66.8, p: 1948.58, color: "#000", font: "bold 54.5px 'Liberation Sans'" },
    ],
    tags: [
      { p: 1961.532, t: "1961.532", bg: "#4a86b4", fg: "#7fb0d0" }, { p: 1957.19, t: "1957.190", bg: "#1a1ae0", fg: "#b8c6ff" },
      { p: 1955.43, t: "1955.430", bg: "#3f60d0", fg: "#7c90d8" }, { p: 1948.76, t: "1948.760", bg: "#d8420e", fg: "#c06030" },
      { p: 1948.276, t: "1948.276", bg: "#000", fg: "#fff" },
    ] },
  { ...rightX, top: 771, bottom: 1130, yMin: -51, yMax: 20.8, yTicks: [], xTicks: rightXTicks,
    datasets: [vline(33, -51, 20.8), vline(81.1, -51, 20.8), hist(rightMacd, rightMacdKind)] },
];

// ---------- page chrome ----------
const Abs = ({ l, t, w, h, s, children }: any) => <div style={{ position: "absolute", left: l, top: t, width: w, height: h, ...s }}>{children}</div>;

function Buttons({ x, y }: { x: number; y: number }) {
  const base = { position: "absolute", top: y, width: 40, height: 22, border: "1px solid #98a6b6", borderRadius: 3, background: "linear-gradient(#e6edf4,#cfdae6)", boxSizing: "border-box" } as any;
  return (
    <>
      <div style={{ ...base, left: x }}><div style={{ position: "absolute", left: 12, top: 11, width: 13, height: 5, background: "#e8edf2", border: "1px solid #66788c", boxSizing: "border-box" }} /></div>
      <div style={{ ...base, left: x + 43 }}><div style={{ position: "absolute", left: 12, top: 4, width: 14, height: 12, border: "2px solid #66788c", boxSizing: "border-box", background: "#e8edf2" }} /></div>
      <div style={{ ...base, left: x + 87, color: "#66788c", fontFamily: "'Liberation Sans'", fontWeight: 700, fontSize: 17, lineHeight: "20px", textAlign: "center" }}>✕</div>
    </>
  );
}

function Bell({ l, t, w, h }: any) {
  const id = "g" + l + "_" + t;
  return (
    <svg style={{ position: "absolute", left: l, top: t }} width={w} height={h} viewBox="0 0 100 130">
      <defs><linearGradient id={id} x1="0" x2="1"><stop offset="0" stopColor="#d8b820" /><stop offset="0.4" stopColor="#fff49a" /><stop offset="1" stopColor="#d2ad14" /></linearGradient></defs>
      <path d="M50 2c-22 0-30 20-32 50-1 22-8 32-16 42 10 14 86 14 96 0-8-10-15-20-16-42C80 22 72 2 50 2z" fill={`url(#${id})`} stroke="#b89a18" strokeWidth="3" />
      <path d="M8 90c18 10 66 10 84 0" fill="none" stroke="#b89a18" strokeWidth="2" />
      <circle cx="50" cy="116" r="9" fill="#e6c82c" stroke="#b89a18" strokeWidth="2" />
    </svg>
  );
}

const CJK = "'Liberation Sans','Noto Sans CJK SC'";
const Mark = ({ cx, cy, size, text, color, angle = -44 }: any) => (
  <div style={{ position: "absolute", left: cx, top: cy, transform: `translate(-50%,-50%) rotate(${angle}deg)`, fontFamily: "'Liberation Sans'", fontSize: size, color: color, whiteSpace: "nowrap", lineHeight: 1 }}>{text}</div>
);
// Latin text is set smaller than the CJK text, as in the MT4 alert window
const Msg = ({ text, left, top }: any) => (
  <span style={{ position: "absolute", left, top, fontFamily: CJK, fontSize: 13.5, wordSpacing: 4, color: "#222", whiteSpace: "pre" }}>
    {text.split(/([\u4e00-\u9fff]+)/).map((p: string, i: number) => <span key={i} style={i % 2 ? { fontSize: 15.5 } : undefined}>{p}</span>)}
  </span>
);

export default function App() {
  const WM = "rgba(112,120,60,0.11)";
  return (
    <div style={{ position: "fixed", left: 0, top: 0, width: 2447, height: 1174, overflow: "hidden", background: "#3a3a3a" }}>
      <Abs l={0} t={0} w={2447} h={5} s={{ background: "#5e6266" }} />

      {/* left window */}
      <Abs l={0} t={5} w={384} h={1165} s={{ background: "#d6e2f1" }} />
      <Abs l={0} t={5} w={384} h={39} s={{ background: "linear-gradient(#cfd8e3,#e6eff7)" }} />
      <Abs l={0} t={44} w={372} h={1115} s={{ background: CREAM }} />
      <Buttons x={244} y={17} />
      <div style={{ position: "absolute", left: 0, top: 0, width: 372, height: 1174, overflow: "hidden" }}>
        {leftPanes.map((c, i) => <Pane key={i} cfg={c} />)}
        <Abs l={-6} t={1090} w={110} h={30} s={{ background: "rgba(92,92,80,0.88)", borderRadius: 6 }} />
        <div style={{ position: "absolute", left: -2, top: 1096, color: "#b4b4a8", fontFamily: CJK, fontSize: 12.5 }}>当前禁言中</div>
        <Abs l={73} t={1095} w={1} h={20} s={{ background: "#8a8a7c" }} />
        <div style={{ position: "absolute", left: 84, top: 1095, color: "#e4e4dc", fontFamily: "'Liberation Sans'", fontSize: 15 }}>‹</div>
      </div>

      {/* middle window */}
      <Abs l={378} t={5} w={1035} h={1165} s={{ background: "#d6e2f1", borderLeft: "2px solid #777", boxSizing: "border-box", borderTopLeftRadius: 5, borderTopRightRadius: 8 }} />
      <Abs l={380} t={5} w={1030} h={39} s={{ background: "linear-gradient(#cfd8e3,#e6eff7)" }} />
      <Abs l={384} t={44} w={1018} h={1115} s={{ background: CREAM, borderLeft: "1px solid #555", boxSizing: "border-box" }} />
      <Buttons x={1274} y={17} />
      <div style={{ position: "absolute", left: 384, top: 0, width: 1018, height: 1174, overflow: "hidden" }}>
        {midPanes.map((c, i) => <Pane key={i} cfg={c} />)}
      </div>
      <div style={{ position: "absolute", left: 384, top: 46, width: 1029, height: 1114, overflow: "hidden", pointerEvents: "none" }}>
        <Abs l={1036 - 384} t={343 - 46} w={344} h={344} s={{ borderRadius: "50%", background: "rgba(118,126,60,0.09)" }} />
        <Mark cx={1085 - 384} cy={235 - 46} size={84} text="18681493429" color={WM} />
        <Mark cx={1218 - 384} cy={492 - 46} size={84} text="18681493429" color={WM} />
        <Mark cx={1288 - 384} cy={794 - 46} size={84} text="18681493429" color={WM} />
        <Mark cx={1020 - 384} cy={845 - 46} size={38} text="18681493429" color={WM} />
        <Mark cx={1380 - 384} cy={190 - 46} size={38} text="18681493429" color={WM} />
      </div>

      {/* right window */}
      <Abs l={1413} t={5} w={1034} h={1165} s={{ background: "#d9e4f2" }} />
      <Abs l={1413} t={5} w={1034} h={39} s={{ background: "linear-gradient(#cfd8e3,#e6eff7)" }} />
      <Abs l={1413} t={44} w={1019} h={1113} s={{ background: "#636363" }} />
      <Buttons x={2305} y={15} />
      <div style={{ position: "absolute", left: 1413, top: 0, width: 1019, height: 1174, overflow: "hidden" }}>
        {rightPanes().map((c, i) => <Pane key={i} cfg={c} />)}
      </div>
      <div style={{ position: "absolute", left: 1413, top: 46, width: 940, height: 1100, overflow: "hidden", pointerEvents: "none" }}>
        <Mark cx={-40} cy={130} size={60} text="18681493429" color="rgba(80,80,80,0.18)" />
        <Mark cx={52} cy={574} size={84} text="429" color="rgba(80,80,80,0.16)" />
      </div>
      <Abs l={1888} t={48} w={16} h={7} s={{ background: "#d8d8d8", clipPath: "polygon(0 0,100% 0,50% 100%)" }} />

      {/* alert popup */}
      <Abs l={1955} t={772} w={477} h={351} s={{ background: "#f0f0f0" }} />
      <Bell l={1973} t={788} w={49} h={62} />
      <Msg text={alertRows[0]} left={2045} top={792} />
      <Abs l={2402} t={794} w={1} h={114} s={{ background: "#fafafa" }} />
      <div style={{ position: "absolute", left: 2407, top: 798, width: 0, height: 0, borderLeft: "5px solid transparent", borderRight: "5px solid transparent", borderBottom: "8px solid #9a9a9a" }} />
      <div style={{ position: "absolute", left: 2407, top: 894, width: 0, height: 0, borderLeft: "5px solid transparent", borderRight: "5px solid transparent", borderTop: "8px solid #9a9a9a" }} />
      <Abs l={1966} t={919} w={457} h={155} s={{ background: "#fff", border: "1.5px solid #a8a8a8", boxSizing: "border-box" }} />
      {alertRows.map((r, i) => (
        <div key={i} style={{ position: "absolute", left: 1968, top: 922 + i * 25.5, width: 431, height: 24.5, background: i % 2 ? "#ffffff" : "#ececec", borderBottom: "1.5px solid #d0d0d0", boxSizing: "border-box" }}>
          <Bell l={5} t={3} w={15} h={18} />
          <span style={{ position: "absolute", left: 29, top: 4, fontFamily: CJK, fontSize: 13.5, color: "#222" }}>{alertTime}</span>
          <div style={{ position: "absolute", left: 105, top: 0, width: 2, height: 24, background: "#d4d4d4" }} />
          <Msg text={r} left={111} top={0} />
        </div>
      ))}
      <Abs l={2409} t={942} w={3} h={22} s={{ background: "#888" }} />
      <Abs l={2150} t={1087} w={90} h={36} s={{ border: "1.5px solid #4aa0dc", borderBottom: "none", boxSizing: "border-box", borderRadius: 3, textAlign: "center", fontFamily: "'Liberation Sans'", fontSize: 14, color: "#555", lineHeight: "26px" }}>OK</Abs>

      {/* corner stamp */}
      <div style={{ position: "absolute", left: 1992, top: 1088, width: 40, height: 40, borderRadius: 12, background: "#fff", color: "#222", fontFamily: "'Liberation Serif'", fontStyle: "italic", fontWeight: 700, fontSize: 32, lineHeight: "38px", textAlign: "center" }}>f</div>
      <div style={{ position: "absolute", left: 2048, top: 1079, fontFamily: CJK, fontSize: 41.5, lineHeight: "54px", color: "#fff", WebkitTextStroke: "1px #333", whiteSpace: "pre" }}>@最全MT4指标模版</div>
    </div>
  );
}
